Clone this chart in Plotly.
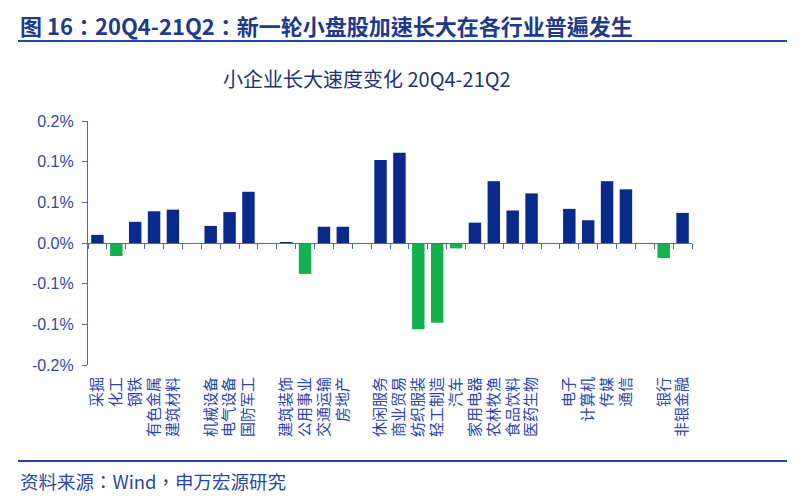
import plotly.graph_objects as go

# Categories (blank strings are the gaps between industry groups)
categories = ["采掘", "化工", "钢铁", "有色金属", "建筑材料", " ",
              "机械设备", "电气设备", "国防军工", "  ",
              "建筑装饰", "公用事业", "交通运输", "房地产", "   ",
              "休闲服务", "商业贸易", "纺织服装", "轻工制造", "汽车",
              "家用电器", "农林牧渔", "食品饮料", "医药生物", "    ",
              "电子", "计算机", "传媒", "通信", "     ",
              "银行", "非银金融"]
values = [0.010, -0.016, 0.026, 0.039, 0.041, None,
          0.021, 0.038, 0.063, None,
          0.001, -0.038, 0.020, 0.020, None,
          0.102, 0.111, -0.106, -0.098, -0.0066,
          0.025, 0.076, 0.040, 0.061, None,
          0.042, 0.028, 0.076, 0.066, None,
          -0.0185, 0.037]
y_tickvals = [-0.15, -0.10, -0.05, 0.0, 0.05, 0.10, 0.15]
y_ticktext = ["-0.2%", "-0.1%", "-0.1%", "0.0%", "0.1%", "0.1%", "0.2%"]

BLUE = "#0A2A8B"
GREEN = "#14B24E"
colors = [GREEN if (v is not None and v < 0) else BLUE for v in values]

CJK = "Noto Sans CJK SC"
CJK_TC = "Noto Sans CJK TC"
LAT = "Liberation Sans, Arial, Noto Sans CJK SC"

fig = go.Figure()
fig.add_trace(go.Bar(x=categories, y=values, marker=dict(color=colors, line=dict(width=0)),
                     showlegend=False, hoverinfo="x+y"))
# invisible trace to carry the zero-line axis with boundary ticks
fig.add_trace(go.Scatter(x=categories, y=[0] * len(categories), xaxis="x2", mode="markers",
                         marker=dict(opacity=0), showlegend=False, hoverinfo="skip"))

L, R, T, B = 88, 108, 121, 137
W, H = 800, 502
pw, ph = W - L - R, H - T - B


def px(x):
    return (x - L) / pw


def py(y):
    return (H - B - y) / ph


fig.update_layout(
    width=W, height=H,
    margin=dict(l=L, r=R, t=T, b=B, autoexpand=False),
    paper_bgcolor="white", plot_bgcolor="white",
    bargap=0.34,
    xaxis=dict(type="category", categoryorder="array", categoryarray=categories,
               range=[-0.5, len(categories) - 0.5],
               showline=False, ticks="", showgrid=False, zeroline=False,
               tickangle=-90, ticklabelstandoff=8,
               tickfont=dict(family=CJK, size=15, color="#2B45A8")),
    xaxis2=dict(type="category", categoryorder="array", categoryarray=categories,
                range=[-0.5, len(categories) - 0.5],
                overlaying="x", anchor="free", position=0.5,
                showline=True, linecolor="#4A68C0", linewidth=1.2,
                ticks="outside", ticklen=5, tickcolor="#4A68C0", tickwidth=1,
                tickson="boundaries", showticklabels=False, showgrid=False, zeroline=False),
    yaxis=dict(range=[-0.15, 0.15], tickvals=y_tickvals, ticktext=y_ticktext,
               showline=True, linecolor="#4A68C0", linewidth=1.2,
               ticks="outside", ticklen=5, tickcolor="#4A68C0",
               showgrid=False, zeroline=False, ticklabelstandoff=5,
               tickfont=dict(family=LAT, size=16, color="#34499A")),
    shapes=[
        dict(type="line", xref="paper", yref="paper", x0=px(18), x1=px(787), y0=py(41), y1=py(41),
             line=dict(color="#2446A8", width=2)),
        dict(type="line", xref="paper", yref="paper", x0=px(18), x1=px(787), y0=py(461), y1=py(461),
             line=dict(color="#2446A8", width=2)),
    ],
    annotations=[
        dict(text="<b>图 16：20Q4-21Q2：新一轮小盘股加速长大在各行业普遍发生</b>",
             xref="paper", yref="paper", x=px(18), y=py(25), xanchor="left", yanchor="middle",
             showarrow=False, font=dict(family=CJK_TC, size=22, color="#1E3A8A")),
        dict(text="小企业长大速度变化 20Q4-21Q2",
             xref="paper", yref="paper", x=px(367), y=py(78), xanchor="center", yanchor="middle",
             showarrow=False, font=dict(family=CJK, size=20, color="#1F3372")),
        dict(text="资料来源：Wind，申万宏源研究",
             xref="paper", yref="paper", x=px(18), y=py(481), xanchor="left", yanchor="middle",
             showarrow=False, font=dict(family=CJK_TC, size=18.5, color="#2A48A0")),
    ],
)

fig.write_html("out.html", config={"displayModeBar": False},
               post_script="document.body.style.margin='0';document.body.style.overflow='hidden';")
